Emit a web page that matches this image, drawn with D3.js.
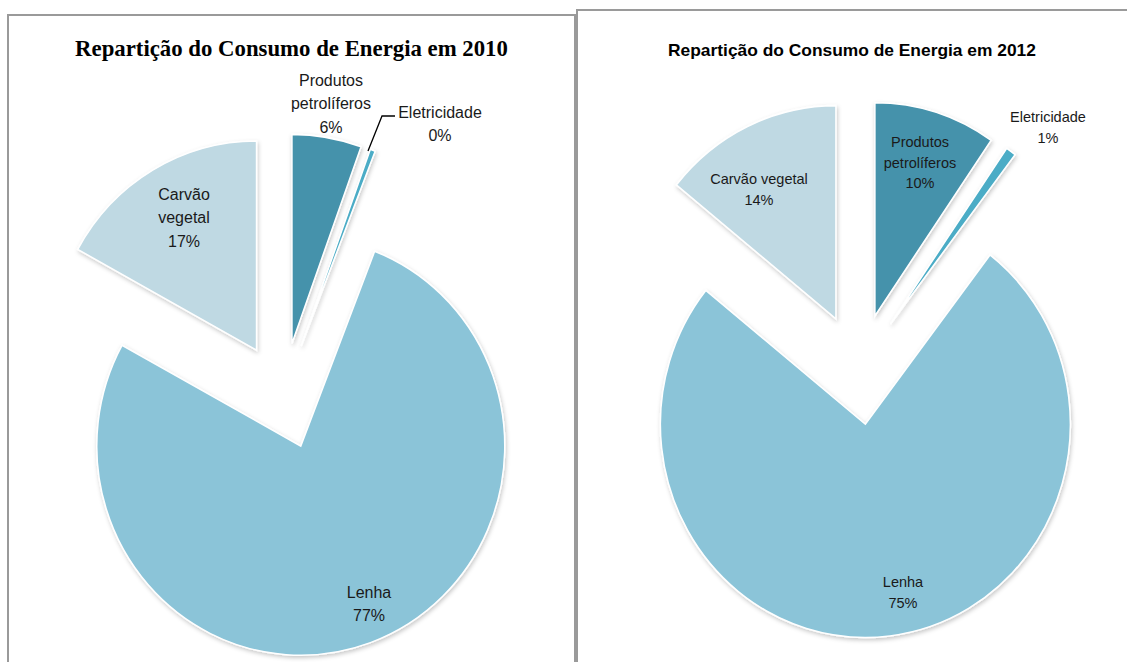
<!DOCTYPE html>
<html>
<head>
<meta charset="utf-8">
<script src="https://cdn.jsdelivr.net/npm/d3@7"></script>
<style>
  body { margin: 0; background: #fff; }
  svg { display: block; }
</style>
</head>
<body>
<script>
// Data
var categories = ["Produtos petrolíferos", "Eletricidade", "Lenha", "Carvão vegetal"];
var labelLines = [["Produtos", "petrolíferos"], ["Eletricidade"], ["Lenha"], ["Carvão", "vegetal"]];
var labelLines2012 = [["Produtos", "petrolíferos"], ["Eletricidade"], ["Lenha"], ["Carvão vegetal"]];
var values2010 = [5.5, 0.4, 77.1, 17];
var values2012 = [9.6, 0.8, 75.4, 14.2];
var titles = ["Repartição do Consumo de Energia em 2010", "Repartição do Consumo de Energia em 2012"];

var colors = ["#4592ab", "#4bacc6", "#8bc4d8", "#bfd9e3"];

var svgWidth = 1127;
var svgHeight = 662;

var svg = d3.select("body")
  .append("svg")
  .attr("width", svgWidth)
  .attr("height", svgHeight);

// soft shadow under the slices
var defs = svg.append("defs");
var filter = defs.append("filter")
  .attr("id", "shadow")
  .attr("x", "-20%").attr("y", "-20%")
  .attr("width", "140%").attr("height", "140%");
filter.append("feDropShadow")
  .attr("dx", 1).attr("dy", 2)
  .attr("stdDeviation", 2)
  .attr("flood-color", "#000")
  .attr("flood-opacity", 0.22);

// panel frames
svg.append("rect")
  .attr("x", 8).attr("y", 15)
  .attr("width", 567).attr("height", 700)
  .attr("fill", "none")
  .attr("stroke", "#9a9a9a")
  .attr("stroke-width", 2);

svg.append("rect")
  .attr("x", 577).attr("y", 10)
  .attr("width", 600).attr("height", 700)
  .attr("fill", "none")
  .attr("stroke", "#9a9a9a")
  .attr("stroke-width", 2);

var charts = [
  {
    values: values2010, lines: labelLines, title: titles[0],
    cx: 283, cy: 396, r: 204, ky: 1.025, explode: 52,
    titleX: 291.5, titleY: 56, titleFont: "'Liberation Serif', 'DejaVu Serif', serif", titleWidth: 433,
    fontSize: 16, lineH: 23.5,
    labels: [[331, 80], [440, 112], [369, 592], [184, 194]],
    leader: [[368, 151], [382, 116], [395, 116]]
  },
  {
    values: values2012, lines: labelLines2012, title: titles[1],
    cx: 859, cy: 369, r: 205, ky: 1.04, explode: 53.5,
    titleX: 852, titleY: 56, titleFont: "'Liberation Sans', Arial, sans-serif", titleWidth: 368,
    fontSize: 14.5, lineH: 20.5,
    labels: [[920, 142], [1048, 117], [903, 582], [759, 179]],
    leader: null
  }
];

charts.forEach(function (c) {

  var pie = d3.pie()
    .sort(null)
    .value(function (d) { return d; });

  var arcs = pie(c.values);

  var arc = d3.arc()
    .innerRadius(0)
    .outerRadius(c.r);

  var g = svg.append("g")
    .attr("transform", "translate(" + c.cx + "," + c.cy + ") scale(1," + c.ky + ")");

  g.selectAll("path")
    .data(arcs)
    .enter().append("path")
      .attr("d", arc)
      .attr("transform", function (d) {
        var a = (d.startAngle + d.endAngle) / 2;
        return "translate(" + (Math.sin(a) * c.explode) + "," + (-Math.cos(a) * c.explode) + ")";
      })
      .attr("fill", function (d, i) { return colors[i]; })
      .attr("stroke", "#fff")
      .attr("stroke-width", 1.5)
      .attr("filter", "url(#shadow)");

  // title, sized so it spans the same width as in the picture
  var title = svg.append("text")
    .attr("x", c.titleX)
    .attr("y", c.titleY)
    .attr("text-anchor", "middle")
    .style("font-family", c.titleFont)
    .style("font-weight", "bold")
    .style("font-size", "20px")
    .attr("fill", "#000")
    .text(c.title);
  var w = title.node().getComputedTextLength();
  title.style("font-size", (20 * c.titleWidth / w) + "px");

  // slice labels
  arcs.forEach(function (d, i) {
    var lines = c.lines[i].concat([Math.round(c.values[i]) + "%"]);
    var t = svg.append("text")
      .attr("text-anchor", "middle")
      .style("font-family", "'Liberation Sans', Arial, sans-serif")
      .style("font-size", c.fontSize + "px")
      .attr("fill", "#1a1a1a");
    lines.forEach(function (s, k) {
      t.append("tspan")
        .attr("x", c.labels[i][0])
        .attr("y", c.labels[i][1] + k * c.lineH + c.fontSize * 0.36)
        .text(s);
    });
  });

  if (c.leader) {
    svg.append("path")
      .attr("d", d3.line()(c.leader))
      .attr("fill", "none")
      .attr("stroke", "#000")
      .attr("stroke-width", 1.3);
  }
});
</script>
</body>
</html>
